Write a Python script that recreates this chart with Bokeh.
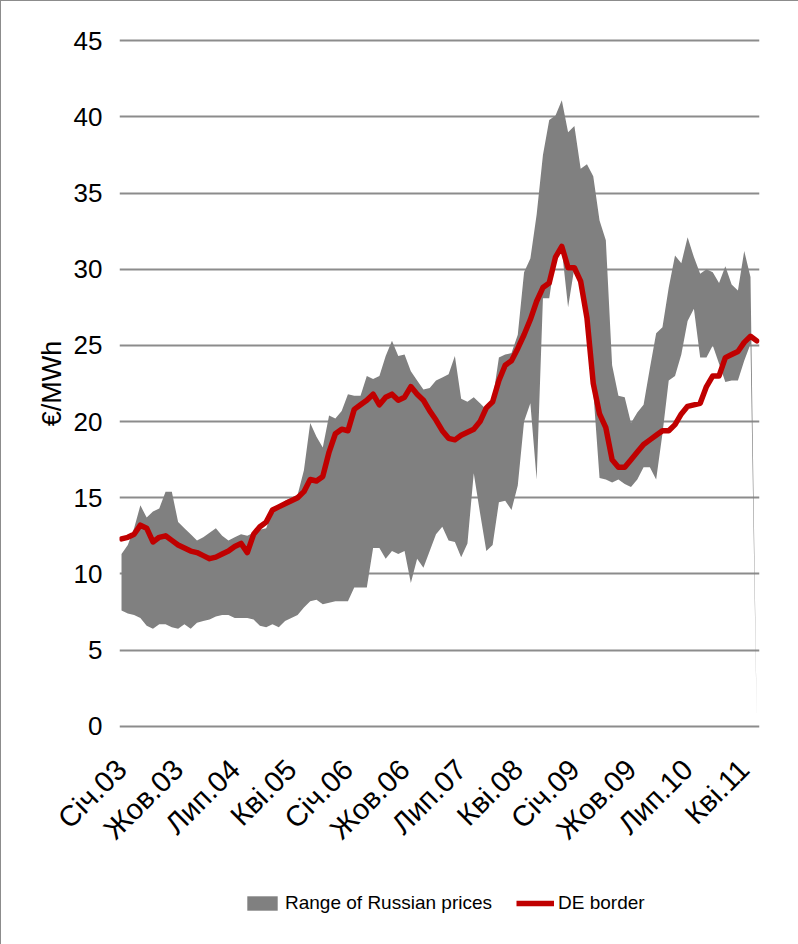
import math
from bokeh.plotting import figure
from bokeh.layouts import column
from bokeh.models import Range1d, FixedTicker, Legend, LegendItem
from bokeh.embed import file_html
from bokeh.resources import INLINE

# Monthly data, Jan 2003 .. Jun 2011 (index 0 = Jan 2003)
range_upper = [11.3, 11.9, 13.0, 14.5, 13.7, 14.1, 14.3, 15.4, 15.4, 13.4,
               13.0, 12.6, 12.2, 12.4, 12.7, 13.0, 12.5, 12.2, 12.4, 12.6,
               12.5, 12.7, 12.9, 13.0, 14.1, 14.4, 14.8, 15.0, 15.2, 16.8,
               19.9, 19.0, 18.3, 20.4, 20.2, 20.7, 21.8, 21.7, 21.7, 23.0,
               22.8, 23.0, 24.3, 25.3, 24.3, 24.4, 23.3, 22.7, 22.1, 22.2,
               22.7, 22.9, 23.1, 24.3, 21.5, 21.3, 21.6, 21.2, 20.8, 21.4,
               24.2, 24.4, 24.5, 25.7, 29.8, 30.7, 33.6, 37.5, 39.8, 40.1,
               41.1, 39.0, 39.4, 36.6, 36.9, 36.1, 33.2, 31.9, 23.7, 21.7,
               21.6, 19.9, 20.6, 21.1, 23.5, 25.8, 26.2, 28.8, 30.9, 30.4,
               32.1, 30.8, 29.7, 30.0, 29.8, 29.1, 30.2, 29.0, 28.6, 31.2,
               29.5, 0.0]

range_lower = [7.6, 7.4, 7.3, 7.1, 6.6, 6.4, 6.7, 6.7, 6.5, 6.4,
               6.7, 6.4, 6.8, 6.9, 7.0, 7.2, 7.3, 7.3, 7.1, 7.1,
               7.1, 7.0, 6.6, 6.5, 6.7, 6.5, 6.9, 7.1, 7.3, 7.8,
               8.2, 8.3, 8.0, 8.1, 8.2, 8.2, 8.2, 9.1, 9.1, 9.1,
               11.7, 11.7, 11.0, 11.5, 11.3, 11.5, 9.4, 11.0, 10.4, 11.5,
               12.6, 13.1, 12.2, 12.1, 11.1, 12.0, 16.6, 14.0, 11.5, 11.9,
               14.7, 14.8, 14.2, 15.8, 20.0, 21.2, 16.2, 28.1, 28.1, 30.8,
               31.3, 27.5, 30.1, 29.5, 27.0, 22.0, 16.3, 16.2, 16.0, 16.2,
               15.9, 15.7, 16.2, 17.0, 17.0, 16.2, 19.2, 22.7, 23.0, 24.4,
               26.6, 27.4, 24.2, 24.2, 25.0, 23.8, 22.6, 22.7, 22.7, 24.0,
               25.1, 0.0]

de_border = [12.3, 12.4, 12.6, 13.2, 13.0, 12.1, 12.4, 12.5, 12.2, 11.9,
             11.7, 11.5, 11.4, 11.2, 11.0, 11.1, 11.3, 11.5, 11.8, 12.0,
             11.4, 12.6, 13.1, 13.4, 14.2, 14.4, 14.6, 14.8, 15.0, 15.4,
             16.2, 16.1, 16.4, 18.0, 19.2, 19.5, 19.4, 20.8, 21.1, 21.4,
             21.8, 21.1, 21.6, 21.8, 21.4, 21.6, 22.3, 21.8, 21.4, 20.7,
             20.1, 19.4, 18.9, 18.8, 19.1, 19.3, 19.5, 20.0, 20.9, 21.3,
             22.7, 23.7, 24.0, 24.8, 25.7, 26.7, 27.9, 28.8, 29.1, 30.8,
             31.5, 30.1, 30.1, 29.2, 26.8, 22.5, 20.5, 19.6, 17.5, 17.0,
             17.0, 17.5, 18.0, 18.5, 18.8, 19.1, 19.4, 19.4, 19.8, 20.5,
             21.0, 21.1, 21.2, 22.3, 23.0, 23.0, 24.2, 24.4, 24.6, 25.2,
             25.6, 25.3]

tick_labels = ["Січ.03", "Жов.03", "Лип.04", "Кві.05", "Січ.06", "Жов.06",
               "Лип.07", "Кві.08", "Січ.09", "Жов.09", "Лип.10", "Кві.11"]
tick_step = 9  # months between labelled categories
y_ticks = [0, 5, 10, 15, 20, 25, 30, 35, 40, 45]

x = list(range(len(de_border)))

FONT = "Liberation Sans"
BAND_COLOR = "#808080"
LINE_COLOR = "#C00000"
X_RANGE = (-0.32, 101.43)

p = figure(width=798, height=870, output_backend="svg", toolbar_location=None,
           x_range=Range1d(*X_RANGE), y_range=Range1d(-0.15, 45.15),
           min_border_left=118, min_border_right=40,
           min_border_top=37, min_border_bottom=143)
p.outline_line_color = None
p.background_fill_color = "white"
p.border_fill_color = "white"

p.varea(x=x, y1=range_lower, y2=range_upper, fill_color=BAND_COLOR)
p.line(x=x, y=de_border, line_color=LINE_COLOR, line_width=5.5,
       line_join="round", line_cap="round")

# axes
p.xgrid.grid_line_color = None
p.ygrid.grid_line_color = "#8c8c8c"
p.ygrid.grid_line_width = 2

p.yaxis.ticker = FixedTicker(ticks=y_ticks)
p.yaxis.axis_line_color = None
p.yaxis.major_tick_line_color = None
p.yaxis.minor_tick_line_color = None
p.yaxis.major_tick_out = 0
p.yaxis.major_tick_in = 0
p.yaxis.major_label_standoff = 17
p.yaxis.major_label_text_font = FONT
p.yaxis.major_label_text_font_size = "26px"
p.yaxis.major_label_text_color = "black"
p.yaxis.axis_label = "€/MWh"
p.yaxis.axis_label_text_font = FONT
p.yaxis.axis_label_text_font_size = "27px"
p.yaxis.axis_label_text_font_style = "normal"
p.yaxis.axis_label_text_color = "black"
p.yaxis.axis_label_standoff = 4

xt = [i * tick_step for i in range(len(tick_labels))]
p.xaxis.ticker = FixedTicker(ticks=xt)
p.xaxis.major_label_overrides = {t: lab for t, lab in zip(xt, tick_labels)}
p.xaxis.major_label_orientation = math.pi / 4
p.xaxis.axis_line_color = None
p.xaxis.major_tick_line_color = None
p.xaxis.minor_tick_line_color = None
p.xaxis.major_tick_out = 0
p.xaxis.major_tick_in = 0
p.xaxis.major_label_standoff = 36
p.xaxis.major_label_text_font = FONT
p.xaxis.major_label_text_font_size = "29px"
p.xaxis.major_label_text_color = "black"

# legend strip below the chart (same series, drawn out of view; only the legend shows)
pl = figure(width=798, height=74, output_backend="svg", toolbar_location=None,
            x_range=Range1d(*X_RANGE), y_range=Range1d(1000, 1001),
            min_border_left=118, min_border_right=40, min_border_top=0, min_border_bottom=0)
pl.outline_line_color = None
pl.axis.visible = False
pl.grid.visible = False
pl.border_fill_color = "white"
pl.background_fill_color = "white"
lg_band = pl.varea(x=x, y1=range_lower, y2=range_upper, fill_color=BAND_COLOR)
lg_line = pl.line(x=x, y=de_border, line_color=LINE_COLOR, line_width=5.5)

legend = Legend(items=[LegendItem(label="Range of Russian prices", renderers=[lg_band]),
                       LegendItem(label="DE border", renderers=[lg_line])],
                location=(124, 31), orientation="horizontal",
                glyph_width=38, glyph_height=18, label_standoff=4, spacing=24,
                padding=0, margin=0, border_line_color=None,
                background_fill_alpha=0,
                label_text_font=FONT, label_text_font_size="19px",
                label_text_color="black")
pl.add_layout(legend, "center")

layout = column(p, pl, spacing=0)
layout.styles = {"border": "1.5px solid #8c8c8c", "box-sizing": "border-box"}

open("out.html", "w").write(file_html(layout, INLINE))
